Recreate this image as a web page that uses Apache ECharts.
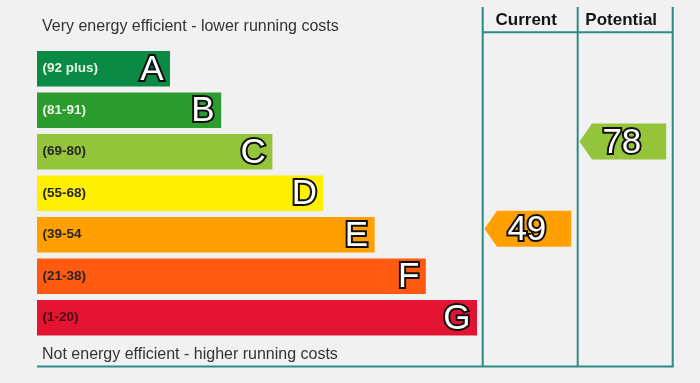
<!DOCTYPE html>
<html><head><meta charset="utf-8">
<script src="https://cdn.jsdelivr.net/npm/echarts@6/dist/echarts.min.js"></script>
<style>html,body{margin:0;padding:0;background:#f1f1f1}#c{width:700px;height:383px}</style>
</head><body><div id="c"></div>
<script>
// ---- data ----
const bandLetters = ['A', 'B', 'C', 'D', 'E', 'F', 'G'];
const bandRanges = ['(92 plus)', '(81-91)', '(69-80)', '(55-68)', '(39-54', '(21-38)', '(1-20)'];
const bandRanks = [1, 2, 3, 4, 5, 6, 7];
const bandMinScores = [92, 81, 69, 55, 39, 21, 1];
const ratingColumns = ['Current', 'Potential'];
const ratingValues = [49, 78];
const topCaption = 'Very energy efficient - lower running costs';
const bottomCaption = 'Not energy efficient - higher running costs';

// ---- styles ----
const BAND_COLORS = ['#0b8a45', '#2c9c2e', '#93c43a', '#fff000', '#ffa000', '#ff5a10', '#e21431'];
const RANGE_TEXT = ['#e6f5e4', '#e6f5e4', '#262626', '#262626', '#262626', '#262626', '#4a0c10'];
const LINE = '#2b8c87';
const FONT = '"Liberation Sans", Arial, sans-serif';

function bandOf(score) {
  for (let i = 0; i < bandMinScores.length; i++) if (score >= bandMinScores[i]) return i;
  return bandMinScores.length - 1;
}

const chart = echarts.init(document.getElementById('c'), null, {renderer: 'canvas'});
chart.setOption({
  backgroundColor: '#f1f1f1',
  animation: false,
  grid: [
    {left: 37, width: 440, top: 48, height: 290.5},
    {left: 482.7, width: 190, top: 45.1, height: 301}
  ],
  xAxis: [
    {gridIndex: 0, type: 'value', min: -1.6, max: 7, show: false},
    {gridIndex: 1, type: 'category', data: ratingColumns, position: 'top',
      axisLine: {show: false}, axisTick: {show: false}, splitLine: {show: false},
      axisLabel: {fontFamily: FONT, fontSize: 17, fontWeight: 'bold', color: '#151515',
        verticalAlign: 'middle', margin: 25, padding: [0, 8, 0, 0]}}
  ],
  yAxis: [
    {gridIndex: 0, type: 'category', data: bandLetters, inverse: true, show: false},
    {gridIndex: 1, type: 'value', min: 10, max: 110, show: false}
  ],
  graphic: [
    {type: 'text', x: 42, y: 27, style: {text: topCaption, font: '16px ' + FONT, fill: '#333',
      align: 'left', verticalAlign: 'middle'}},
    {type: 'text', x: 42, y: 355, style: {text: bottomCaption, font: '16px ' + FONT, fill: '#333',
      align: 'left', verticalAlign: 'middle'}},
    {type: 'line', shape: {x1: 37, y1: 366.5, x2: 673.7, y2: 366.5}, style: {stroke: LINE, lineWidth: 2}},
    {type: 'line', shape: {x1: 482.7, y1: 32.3, x2: 672.7, y2: 32.3}, style: {stroke: LINE, lineWidth: 2}},
    {type: 'line', shape: {x1: 482.7, y1: 7, x2: 482.7, y2: 367}, style: {stroke: LINE, lineWidth: 2}},
    {type: 'line', shape: {x1: 577.7, y1: 7, x2: 577.7, y2: 367}, style: {stroke: LINE, lineWidth: 2}},
    {type: 'line', shape: {x1: 672.7, y1: 7, x2: 672.7, y2: 367}, style: {stroke: LINE, lineWidth: 2}}
  ],
  series: [
    {
      type: 'custom', xAxisIndex: 0, yAxisIndex: 0,
      data: bandRanks.map((r, i) => [r, i]),
      encode: {x: 0, y: 1},
      renderItem: function (params, api) {
        const i = params.dataIndex;
        const end = api.coord([api.value(0), api.value(1)]);
        const left = params.coordSys.x;
        const bh = api.size([0, 1])[1] * 0.855;
        return {type: 'group', children: [
          {type: 'rect', shape: {x: left, y: end[1] - bh / 2, width: end[0] - left, height: bh},
            style: {fill: BAND_COLORS[i]}},
          {type: 'text', x: left + 5.5, y: end[1],
            style: {text: bandRanges[i], font: 'bold 13.5px ' + FONT, fill: RANGE_TEXT[i],
              align: 'left', verticalAlign: 'middle'}},
          {type: 'text', x: end[0] - 6.5, y: end[1] + 1.5,
            style: {text: bandLetters[i], font: '35px ' + FONT, fill: '#ffffff',
              stroke: '#111', lineWidth: 4, align: 'right', verticalAlign: 'middle'}}
        ]};
      }
    },
    {
      type: 'custom', xAxisIndex: 1, yAxisIndex: 1,
      data: ratingValues.map((v, i) => [i, v]),
      encode: {x: 0, y: 1},
      renderItem: function (params, api) {
        const c = api.coord([api.value(0), api.value(1)]);
        const bw = api.size([1, 0])[0];
        const colLeft = c[0] - bw / 2;
        const tip = colLeft + 1.8, right = colLeft + bw - 6.5, h = 36, pt = 12.5;
        const cy = c[1];
        const col = BAND_COLORS[bandOf(api.value(1))];
        return {type: 'group', children: [
          {type: 'polygon', shape: {points: [[tip, cy], [tip + pt, cy - h / 2], [right, cy - h / 2],
            [right, cy + h / 2], [tip + pt, cy + h / 2]]}, style: {fill: col}},
          {type: 'text', x: (tip + right) / 2 - 1, y: cy + 1.5,
            style: {text: String(api.value(1)), font: '35px ' + FONT, fill: '#ffffff',
              stroke: '#111', lineWidth: 4, align: 'center', verticalAlign: 'middle'}}
        ]};
      }
    }
  ]
});
</script>
</body></html>
